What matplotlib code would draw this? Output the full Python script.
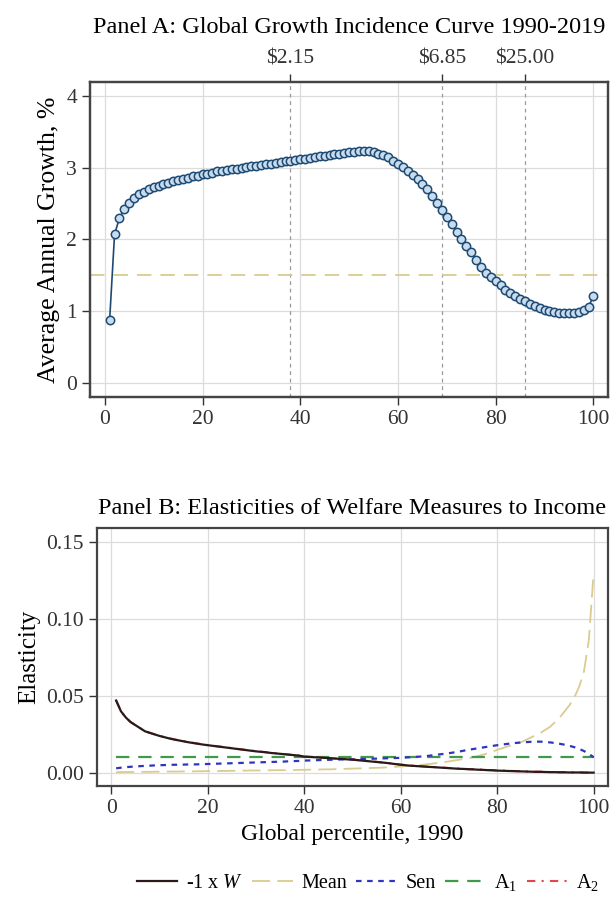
import matplotlib
matplotlib.use('Agg')
import matplotlib.pyplot as plt

plt.rcParams['font.family'] = ['Liberation Serif', 'DejaVu Serif']
plt.rcParams['mathtext.fontset'] = 'custom'
plt.rcParams['mathtext.rm'] = 'Liberation Serif'
plt.rcParams['mathtext.it'] = 'Liberation Serif:italic'

# percentiles
pct = list(range(1, 101))

# panel A: average annual growth 1990-2019 by percentile, %
growth = [0.88, 2.07, 2.30, 2.42, 2.51, 2.58, 2.63, 2.67, 2.70, 2.73,
          2.75, 2.77, 2.79, 2.81, 2.83, 2.84, 2.86, 2.88, 2.89, 2.91,
          2.92, 2.93, 2.95, 2.96, 2.97, 2.98, 2.99, 3.00, 3.01, 3.02,
          3.03, 3.04, 3.05, 3.06, 3.07, 3.08, 3.09, 3.10, 3.11, 3.12,
          3.13, 3.14, 3.15, 3.16, 3.17, 3.18, 3.19, 3.20, 3.21, 3.22,
          3.22, 3.23, 3.23, 3.23, 3.22, 3.20, 3.18, 3.15, 3.10, 3.05,
          3.01, 2.96, 2.90, 2.84, 2.78, 2.70, 2.61, 2.51, 2.41, 2.31,
          2.21, 2.11, 2.01, 1.91, 1.82, 1.72, 1.62, 1.53, 1.47, 1.42,
          1.36, 1.30, 1.25, 1.21, 1.17, 1.14, 1.10, 1.07, 1.04, 1.02,
          1.00, 0.99, 0.98, 0.98, 0.97, 0.98, 0.99, 1.01, 1.06, 1.21]
mean_growth = 1.5
poverty_pct = [38, 69, 86]
poverty_lbl = ['$2.15', '$6.85', '$25.00']

# panel B: elasticities
w_neg = [0.047, 0.040, 0.036, 0.033, 0.031, 0.029, 0.027, 0.026, 0.025, 0.024,
         0.0232, 0.0224, 0.0217, 0.0211, 0.0205, 0.0199, 0.0194, 0.0189, 0.0184, 0.0180,
         0.0176, 0.0172, 0.0168, 0.0164, 0.0160, 0.0156, 0.0152, 0.0148, 0.0144, 0.0140,
         0.0137, 0.0134, 0.0130, 0.0127, 0.0124, 0.0121, 0.0118, 0.0115, 0.0112, 0.0106,
         0.0104, 0.0102, 0.0100, 0.0098, 0.0096, 0.0094, 0.0092, 0.0090, 0.0088, 0.0086,
         0.0083, 0.0080, 0.0077, 0.0074, 0.0071, 0.0068, 0.0065, 0.0061, 0.0057, 0.0053,
         0.0050, 0.0047, 0.0045, 0.0043, 0.0041, 0.0039, 0.0037, 0.0035, 0.0033, 0.0031,
         0.0029, 0.0027, 0.0026, 0.0024, 0.0023, 0.0021, 0.0020, 0.0018, 0.0017, 0.0015,
         0.0014, 0.0013, 0.0012, 0.0011, 0.0010, 0.0009, 0.0008, 0.0007, 0.0007, 0.0006,
         0.0005, 0.0005, 0.0004, 0.0004, 0.0003, 0.0003, 0.0003, 0.0002, 0.0002, 0.0002]
a2 = [0.047, 0.040, 0.036, 0.033, 0.031, 0.029, 0.027, 0.026, 0.025, 0.024,
      0.0233, 0.0225, 0.0218, 0.0212, 0.0206, 0.0200, 0.0195, 0.0190, 0.0185, 0.0181,
      0.0177, 0.0173, 0.0169, 0.0165, 0.0161, 0.0157, 0.0153, 0.0149, 0.0145, 0.0141,
      0.0138, 0.0135, 0.0131, 0.0128, 0.0125, 0.0122, 0.0119, 0.0116, 0.0113, 0.0107,
      0.0105, 0.0103, 0.0101, 0.0099, 0.0097, 0.0095, 0.0093, 0.0091, 0.0089, 0.0087,
      0.0084, 0.0081, 0.0078, 0.0075, 0.0072, 0.0069, 0.0066, 0.0062, 0.0058, 0.0054,
      0.0051, 0.0048, 0.0046, 0.0044, 0.0042, 0.0040, 0.0038, 0.0036, 0.0034, 0.0032,
      0.0030, 0.0028, 0.0027, 0.0025, 0.0024, 0.0022, 0.0021, 0.0019, 0.0018, 0.0016,
      0.0015, 0.0014, 0.0013, 0.0012, 0.0011, 0.0010, 0.0009, 0.0008, 0.0008, 0.0007,
      0.0006, 0.0006, 0.0005, 0.0005, 0.0004, 0.0004, 0.0004, 0.0003, 0.0003, 0.0003]
mean_el = [0.0005, 0.0005, 0.0006, 0.0006, 0.0006, 0.0007, 0.0007, 0.0007, 0.0008, 0.0008,
           0.0008, 0.0009, 0.0009, 0.0009, 0.0010, 0.0010, 0.0010, 0.0011, 0.0011, 0.0012,
           0.0012, 0.0012, 0.0013, 0.0013, 0.0014, 0.0014, 0.0015, 0.0015, 0.0016, 0.0016,
           0.0016, 0.0017, 0.0017, 0.0018, 0.0018, 0.0018, 0.0019, 0.0019, 0.0020, 0.0020,
           0.0021, 0.0021, 0.0022, 0.0023, 0.0023, 0.0024, 0.0025, 0.0026, 0.0027, 0.0028,
           0.0029, 0.0030, 0.0031, 0.0032, 0.0033, 0.0034, 0.0036, 0.0038, 0.0040, 0.0042,
           0.0044, 0.0046, 0.0048, 0.0051, 0.0055, 0.0058, 0.0062, 0.0066, 0.0070, 0.0075,
           0.0080, 0.0085, 0.0090, 0.0095, 0.0102, 0.0110, 0.0118, 0.0127, 0.0137, 0.0150,
           0.0160, 0.0170, 0.0180, 0.0190, 0.0200, 0.0215, 0.0230, 0.0245, 0.0260, 0.0280,
           0.0300, 0.0330, 0.0360, 0.0400, 0.0440, 0.0490, 0.0560, 0.0660, 0.0860, 0.1300]
sen = [0.0030, 0.0034, 0.0037, 0.0040, 0.0042, 0.0044, 0.0046, 0.0047, 0.0049, 0.0050,
       0.0051, 0.0052, 0.0053, 0.0053, 0.0054, 0.0055, 0.0055, 0.0056, 0.0057, 0.0058,
       0.0059, 0.0060, 0.0061, 0.0062, 0.0063, 0.0064, 0.0065, 0.0066, 0.0067, 0.0068,
       0.0069, 0.0070, 0.0071, 0.0072, 0.0073, 0.0074, 0.0076, 0.0077, 0.0078, 0.0080,
       0.0081, 0.0082, 0.0083, 0.0084, 0.0085, 0.0086, 0.0087, 0.0088, 0.0088, 0.0089,
       0.0090, 0.0091, 0.0091, 0.0092, 0.0093, 0.0094, 0.0095, 0.0096, 0.0097, 0.0098,
       0.0100, 0.0102, 0.0104, 0.0106, 0.0108, 0.0112, 0.0116, 0.0120, 0.0124, 0.0128,
       0.0133, 0.0138, 0.0144, 0.0150, 0.0155, 0.0160, 0.0165, 0.0170, 0.0175, 0.0180,
       0.0184, 0.0188, 0.0192, 0.0195, 0.0198, 0.0200, 0.0202, 0.0203, 0.0203, 0.0201,
       0.0198, 0.0194, 0.0189, 0.0183, 0.0176, 0.0167, 0.0156, 0.0142, 0.0124, 0.0102]
a1 = [0.0101] * 100

navy = '#1d4a73'
tan = '#d9cc8e'

fig = plt.figure(figsize=(6.13, 9.16), dpi=100)

# ---------------- Panel A ----------------
ax = fig.add_axes([0.147, 0.5666, 0.845, 0.3439])
for v in poverty_pct:
    ax.axvline(v, color='#9a9a9a', ls=(0, (3, 3)), lw=0.9, zorder=1)
ax.axhline(mean_growth, color=tan, ls=(0, (8, 5)), lw=1.3, zorder=1)
ax.plot(pct, growth, color=navy, lw=1.2, marker='o', ms=6, mfc='#c9dcee',
        mec=navy, mew=1.1, zorder=3)
ax.set_xlim(-3, 103)
ax.set_ylim(-0.2, 4.2)
ax.set_xticks([0, 20, 40, 60, 80, 100])
ax.set_yticks([0, 1, 2, 3, 4])
ax.set_ylabel('Average Annual Growth, %', fontsize=18.5)
ax.grid(True, color='#dcdcdc', lw=0.9)
ax.set_axisbelow(True)
ax.tick_params(labelsize=15.5, length=6, width=1, colors='#333333')

top = ax.twiny()
top.set_xlim(ax.get_xlim())
top.set_xticks(poverty_pct)
top.set_xticklabels(poverty_lbl)
top.tick_params(labelsize=15.5, length=6, width=1, colors='#333333')
top.set_title('Panel A: Global Growth Incidence Curve 1990-2019', fontsize=17.5, pad=12)

for a in (ax, top):
    for s in a.spines.values():
        s.set_color('#444444')
        s.set_linewidth(1.6)

# ---------------- Panel B ----------------
bx = fig.add_axes([0.158, 0.1419, 0.834, 0.2817])
bx.plot(pct, mean_el, color=tan, ls=(0, (10, 4)), lw=1.3, label='Mean', zorder=2)
bx.plot(pct, a1, color='#3f9a4a', ls=(0, (6, 4)), lw=1.6, label='A$_1$', zorder=3)
bx.plot(pct, sen, color='#2f35c0', ls=(0, (2.5, 2.5)), lw=1.6, label='Sen', zorder=4)
bx.plot(pct, a2, color='#e04848', ls=(0, (4, 3, 1, 3)), lw=1.5, label='A$_2$', zorder=5)
bx.plot(pct, w_neg, color='#2a1a1a', lw=1.6, label='-1 x $W$', zorder=6)
bx.set_xlim(-3, 103)
bx.set_ylim(-0.0085, 0.159)
bx.set_xticks([0, 20, 40, 60, 80, 100])
bx.set_yticks([0, 0.05, 0.10, 0.15])
bx.set_yticklabels(['0.00', '0.05', '0.10', '0.15'])
bx.set_ylabel('Elasticity', fontsize=18)
bx.set_xlabel('Global percentile, 1990', fontsize=17)
bx.set_title('Panel B: Elasticities of Welfare Measures to Income', fontsize=17.5, pad=10)
bx.grid(True, color='#dcdcdc', lw=0.9)
bx.set_axisbelow(True)
bx.tick_params(labelsize=15.5, length=6, width=1, colors='#333333')
for s in bx.spines.values():
    s.set_color('#444444')
    s.set_linewidth(1.6)

handles, labels = bx.get_legend_handles_labels()
order = [4, 0, 2, 1, 3]
fig.legend([handles[i] for i in order], [labels[i] for i in order],
           loc='center', bbox_to_anchor=(0.6, 0.037), ncol=5, frameon=False,
           fontsize=14.5, handlelength=2.0, columnspacing=0.45, handletextpad=0.45)

fig.savefig('out.png', dpi=100)
